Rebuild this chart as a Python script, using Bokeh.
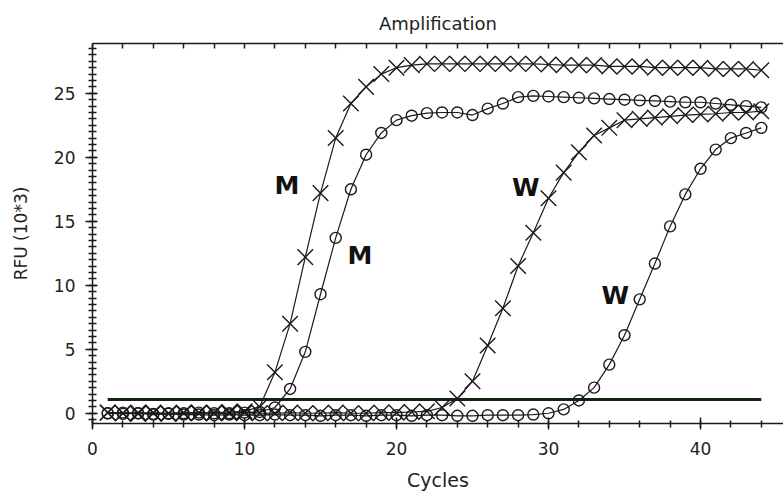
from bokeh.plotting import figure
from bokeh.models import Range1d, SingleIntervalTicker, FixedTicker, LinearAxis, Label
from bokeh.embed import file_html
from bokeh.resources import INLINE

cycles = list(range(1, 45))
m_cross = [0.05, 0.0, -0.05, 0.05, 0.0, 0.05, 0.0, 0.05, 0.1, 0.15,
           0.5, 3.2, 7.0, 12.2, 17.2, 21.5, 24.2, 25.5, 26.5, 27.0,
           27.2, 27.3, 27.3, 27.3, 27.3, 27.3, 27.3, 27.3, 27.3, 27.25,
           27.2, 27.2, 27.2, 27.1, 27.1, 27.1, 27.0, 27.0, 27.0, 27.0,
           26.9, 26.9, 26.9, 26.8]
m_circle = [0.0, 0.05, 0.0, -0.05, 0.0, 0.0, 0.05, 0.0, 0.0, 0.05,
            0.1, 0.45, 1.9, 4.8, 9.3, 13.7, 17.5, 20.2, 21.9, 22.9,
            23.25, 23.45, 23.5, 23.5, 23.3, 23.8, 24.2, 24.7, 24.8, 24.75,
            24.7, 24.65, 24.6, 24.55, 24.5, 24.45, 24.4, 24.35, 24.3, 24.3,
            24.2, 24.1, 24.0, 23.9]
w_cross = [0.05, 0.0, 0.05, 0.0, -0.05, 0.0, 0.05, 0.0, 0.0, 0.05,
           0.0, 0.0, 0.05, 0.0, 0.0, 0.05, 0.0, 0.0, 0.05, 0.05,
           0.1, 0.15, 0.45, 1.15, 2.5, 5.3, 8.2, 11.5, 14.1, 16.8,
           18.8, 20.4, 21.7, 22.3, 22.9, 23.0, 23.1, 23.2, 23.3, 23.35,
           23.4, 23.5, 23.5, 23.6]
w_circle = [0.0, -0.05, 0.0, -0.1, -0.05, -0.1, -0.1, -0.15, -0.1, -0.15,
            -0.15, -0.1, -0.15, -0.15, -0.2, -0.15, -0.15, -0.2, -0.15, -0.15,
            -0.2, -0.15, -0.15, -0.2, -0.2, -0.15, -0.15, -0.15, -0.1, 0.0,
            0.3, 1.0, 2.0, 3.8, 6.1, 8.9, 11.7, 14.6, 17.1, 19.1,
            20.6, 21.5, 21.9, 22.3]
threshold_cycles = [1, 44]
threshold_rfu = [1.07, 1.07]
top_ticks = [0, 2, 4, 6, 8, 10, 12, 14, 16, 18, 20, 22, 24, 26, 28, 30,
             32, 34, 36, 38, 40, 42, 44]

label_text = ["M", "M", "W", "W"]
label_x = [12.8, 17.6, 28.5, 34.4]
label_y = [17.8, 12.3, 17.6, 9.2]

FONT = "DejaVu Sans"
INK = "#1a1a1a"

p = figure(width=783, height=493, output_backend="svg", toolbar_location=None,
           x_range=Range1d(0, 691 / 15.2), y_range=Range1d(-0.8, 28.89),
           min_border_left=92, min_border_right=0, min_border_top=43,
           min_border_bottom=70, x_axis_type=None, y_axis_type=None)
p.outline_line_color = None
p.background_fill_color = "white"
p.border_fill_color = "white"

p.title.text = "Amplification"
p.title.align = "center"
p.title.text_font = FONT
p.title.text_font_size = "18px"
p.title.text_font_style = "normal"
p.title.text_color = "#222222"
p.title.standoff = 20

xt = SingleIntervalTicker(interval=10, num_minor_ticks=5)
yt = SingleIntervalTicker(interval=5, num_minor_ticks=10)

xaxis = LinearAxis(ticker=xt, axis_label="Cycles")
xaxis.axis_line_width = 1.5
xaxis.axis_line_color = INK
xaxis.major_tick_in = 6
xaxis.major_tick_out = 6
xaxis.minor_tick_in = 3
xaxis.minor_tick_out = 4
xaxis.major_tick_line_width = 1.5
xaxis.minor_tick_line_width = 1.5
xaxis.major_tick_line_color = INK
xaxis.minor_tick_line_color = INK
xaxis.major_label_text_font = FONT
xaxis.major_label_text_font_size = "17px"
xaxis.major_label_text_color = "#222222"
xaxis.major_label_standoff = 12
xaxis.axis_label_text_font = FONT
xaxis.axis_label_text_font_size = "19px"
xaxis.axis_label_text_font_style = "normal"
xaxis.axis_label_text_color = "#222222"
xaxis.axis_label_standoff = 11
p.add_layout(xaxis, "below")

top = LinearAxis(ticker=FixedTicker(ticks=[], minor_ticks=top_ticks))
top.axis_line_width = 1.5
top.axis_line_color = INK
top.major_tick_in = 6
top.major_tick_out = 0
top.minor_tick_in = 5
top.minor_tick_out = 0
top.minor_tick_line_width = 1.5
top.minor_tick_line_color = INK
top.major_label_standoff = 0
p.add_layout(top, "above")

yaxis = LinearAxis(ticker=yt, axis_label="RFU (10*3)")
yaxis.axis_line_width = 1.5
yaxis.axis_line_color = INK
yaxis.major_tick_in = 5
yaxis.major_tick_out = 7
yaxis.minor_tick_in = 4
yaxis.minor_tick_out = 4
yaxis.major_tick_line_width = 1.5
yaxis.minor_tick_line_width = 1.5
yaxis.major_tick_line_color = INK
yaxis.minor_tick_line_color = INK
yaxis.major_label_text_font = FONT
yaxis.major_label_text_font_size = "17px"
yaxis.major_label_text_color = "#222222"
yaxis.major_label_standoff = 10
yaxis.axis_label_text_font = FONT
yaxis.axis_label_text_font_size = "17px"
yaxis.axis_label_text_font_style = "normal"
yaxis.axis_label_text_color = "#222222"
yaxis.axis_label_standoff = 20
p.add_layout(yaxis, "left")

p.xgrid.ticker = xt
p.ygrid.ticker = yt
for g in (p.xgrid, p.ygrid):
    g.grid_line_color = "#555555"
    g.grid_line_dash = "2 7"
    g.grid_line_width = 1.5

# threshold
p.line(threshold_cycles, threshold_rfu, line_color="#0d260d", line_width=3)

for ys, mk in ((w_circle, "circle"), (w_cross, "x"), (m_circle, "circle"), (m_cross, "x")):
    p.line(cycles, ys, line_color=INK, line_width=1.2)
    if mk == "x":
        p.scatter(cycles, ys, marker="x", size=22, line_color=INK, line_width=1.4)
    else:
        p.scatter(cycles, ys, marker="circle", size=11, line_color=INK,
                  line_width=1.4, fill_color=None)

for t, lx, ly in zip(label_text, label_x, label_y):
    p.add_layout(Label(x=lx, y=ly, text=t, text_font=FONT, text_font_style="bold",
                       text_font_size="25px", text_color="#111111",
                       text_align="center", text_baseline="middle"))

open("out.html", "w").write(file_html(p, INLINE))
